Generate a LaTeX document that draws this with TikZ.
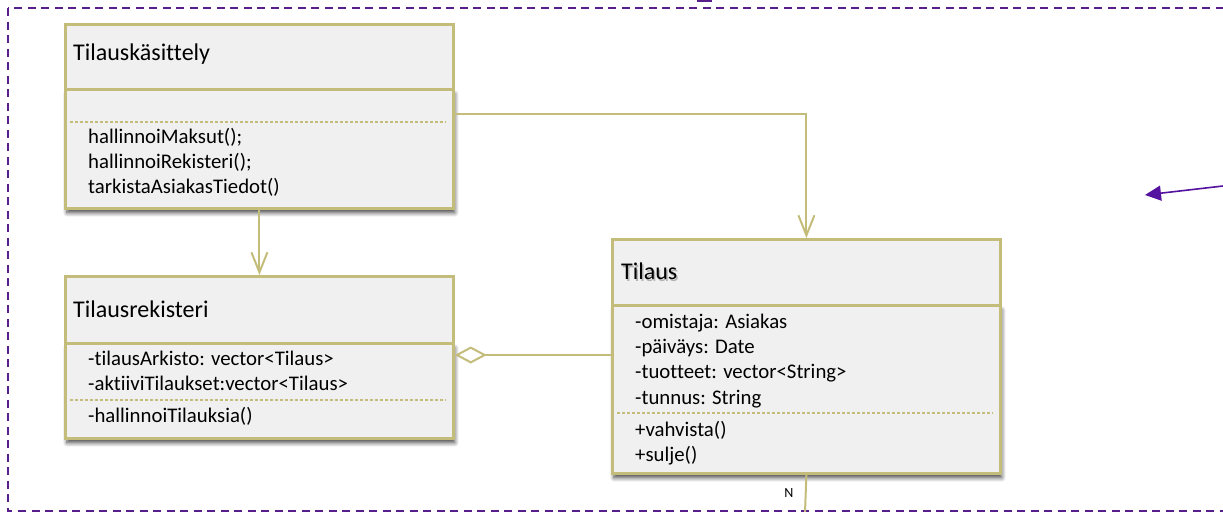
\documentclass[tikz,border=0pt]{standalone}
\usepackage{fontspec}
\setmainfont[Ligatures=NoCommon]{Carlito}
\usetikzlibrary{arrows.meta,shadows.blur}
\definecolor{umlline}{RGB}{196,188,122}
\definecolor{umlfill}{RGB}{240,240,240}
\definecolor{framecol}{RGB}{88,30,140}
\definecolor{pointcol}{RGB}{84,18,160}
\begin{document}
\begin{tikzpicture}[x=1pt,y=-1pt,
  header/.style={draw=umlline, line width=2.8pt, fill=umlfill, inner sep=0pt,
    anchor=north west, minimum width=388pt},
  compartment/.style={header,
    blur shadow={shadow xshift=1.5pt, shadow yshift=-4.5pt, shadow blur radius=4pt,
      shadow blur steps=8, shadow opacity=70}},
  titletext/.style={anchor=west, inner sep=0pt, font=\fontsize{24}{28}\selectfont},
  membertext/.style={anchor=west, inner sep=0pt, font=\fontsize{20.8}{25}\selectfont},
  sepline/.style={draw=umlline, line width=1.3pt, dash pattern=on 3pt off 2pt},
  assoc/.style={draw=umlline, line width=2pt, -{Straight Barb[length=20pt,width=16pt,line width=2pt]}},
  aggr/.style={draw=umlline, line width=2pt, -{Diamond[open,length=32pt,width=17pt,line width=2pt,fill=white]}},
  frameline/.style={draw=framecol, line width=2pt, dash pattern=on 8pt off 5.5pt},
  pointer/.style={draw=pointcol, line width=1.6pt, -{Triangle[length=16pt,width=15pt]}}
]
\useasboundingbox (0,0) rectangle (1223,514);

% outer package frame (continues past the right edge)
\draw[frameline] (8,8) rectangle (1240,511);
\fill[framecol] (697,0) rectangle (712,2);

% --- class Tilauskasittely ---
\node[header, minimum height=65pt] (tkH) at (64,23) {};
\node[compartment, minimum height=119pt] (tkL) at (64,88) {};
\draw[sepline] (70,122) -- (446,122);
\node[titletext] (tkT) at (73,54) {Tilauskäsittely};
\node[membertext] (tkM1) at (88,137) {hallinnoiMaksut();};
\node[membertext] (tkM2) at (88,162) {hallinnoiRekisteri();};
\node[membertext] (tkM3) at (88,187) {tarkistaAsiakasTiedot()};

% --- class Tilausrekisteri ---
\node[header, minimum height=67pt] (trH) at (64,275) {};
\node[compartment, minimum height=95pt] (trL) at (64,342) {};
\draw[sepline] (70,400) -- (446,400);
\node[titletext] (trT) at (73,309) {Tilausrekisteri};
\node[membertext] (trA1) at (88,358) {-tilausArkisto: vector<Tilaus>};
\node[membertext] (trA2) at (88,383) {-aktiiviTilaukset:vector<Tilaus>};
\node[membertext] (trM1) at (88,416) {-hallinnoiTilauksia()};

% --- class Tilaus ---
\node[header, minimum height=66pt] (tH) at (611,238) {};
\node[compartment, minimum height=168pt] (tL) at (611,304) {};
\draw[sepline] (617,413) -- (993,413);
\node[titletext, text=black!45, opacity=0.6] (tTs) at (622.5,273) {Tilaus};
\node[titletext] (tT) at (621,271) {Tilaus};
\node[membertext] (tA1) at (635,323) {-omistaja: Asiakas};
\node[membertext] (tA2) at (635,348) {-päiväys: Date};
\node[membertext] (tA3) at (635,373) {-tuotteet: vector<String>};
\node[membertext] (tA4) at (635,399) {-tunnus: String};
\node[membertext] (tM1) at (635,430) {+vahvista()};
\node[membertext] (tM2) at (635,456) {+sulje()};

% --- connectors ---
\draw[assoc] (tkL.south) -- (trH.north);
\draw[assoc] ([yshift=-26pt]tkL.north east) -| (tH.north);
\draw[aggr] ([yshift=-51pt]tL.north west) -- ([yshift=-13pt]trL.north east);
\coordinate (nEnd) at (805,512);
\draw[draw=umlline, line width=2pt] (tL.south) -- (nEnd);
\node[fill=white, inner sep=1pt, font=\fontsize{14}{15}\selectfont] (nLab) at (789,493) {N};

% pointer entering from the right
\coordinate (pStart) at (1223,186);
\coordinate (pEnd) at (1145,195);
\draw[pointer] (pStart) -- (pEnd);
\end{tikzpicture}
\end{document}
